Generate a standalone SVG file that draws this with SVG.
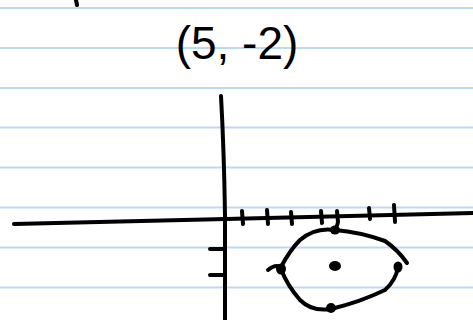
<svg xmlns="http://www.w3.org/2000/svg" width="473" height="320" viewBox="0 0 473 320">
<style>
.rule{stroke:#b9d9f9;stroke-width:2}
.ink{fill:none;stroke:#000;stroke-width:4;stroke-linecap:round;stroke-linejoin:round}
.dot{fill:#000}
</style>
<rect width="473" height="320" fill="#fff"/>
<g id="paper">
<line class="rule" x1="0" y1="8" x2="473" y2="8"/>
<line class="rule" x1="0" y1="48" x2="473" y2="48"/>
<line class="rule" x1="0" y1="88" x2="473" y2="88"/>
<line class="rule" x1="0" y1="127.5" x2="473" y2="127.5"/>
<line class="rule" x1="0" y1="167.5" x2="473" y2="167.5"/>
<line class="rule" x1="0" y1="207.5" x2="473" y2="207.5"/>
<line class="rule" x1="0" y1="247.5" x2="473" y2="247.5"/>
<line class="rule" x1="0" y1="287.5" x2="473" y2="287.5"/>
</g>
<g id="label">
<path class="ink" d="M76 0 L77 5"/>
<text x="237" y="59" font-family="Liberation Sans, sans-serif" font-size="46" text-anchor="middle" fill="#000">(5, -2)</text>
</g>
<g id="axes">
<path class="ink" d="M221 96 Q224 150 225 215 Q225 270 225 320"/>
<path class="ink" d="M14 224 L226 219 L473 213"/>
<path class="ink" d="M242 211 L243 224 M267 210 L268 224 M291 212 L292 224 M321 211 L322 223 M337 211 L338 222 Q337 228 333 231 M369 208 L370 219 M394 205 L395 222"/>
<path class="ink" d="M210 249 L224 249 M210 275 L223 275"/>
</g>
<g id="curve">
<path class="ink" d="M268 270 Q275 264 281 267 Q290 250 300 240 Q315 227 335 230 Q360 232 385 241 Q398 250 407 263"/>
<path class="ink" d="M281 269 Q287 285 300 300 Q312 312 331 309 Q360 302 385 290 Q396 280 398 267"/>
<ellipse class="dot" cx="335" cy="230" rx="5" ry="4.5"/>
<ellipse class="dot" cx="281" cy="269" rx="5" ry="5.5"/>
<ellipse class="dot" cx="398" cy="267" rx="4.5" ry="5.5"/>
<ellipse class="dot" cx="331" cy="308" rx="5" ry="5"/>
<ellipse class="dot" cx="335" cy="266" rx="6" ry="5"/>
</g>
</svg>
